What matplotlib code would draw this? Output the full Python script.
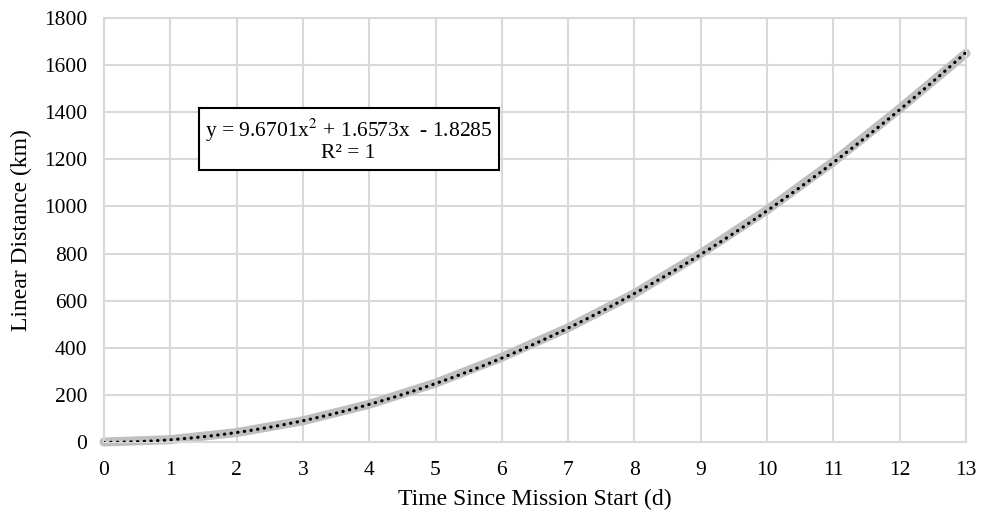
import matplotlib.pyplot as plt
import numpy as np

plt.rcParams['font.family'] = ['Liberation Serif', 'DejaVu Serif']

# data (day, km)
days = [0, 1, 2, 3, 4, 5, 6, 7, 8, 9, 10, 11, 12, 13]
dist = [0, 10, 40, 90, 160, 250, 360, 485, 630, 800, 985, 1190, 1415, 1650]

# trendline coefficients as shown on the chart
a2, a1, a0 = 9.6701, 1.6573, -1.8285

fig = plt.figure(figsize=(9.82, 5.15), dpi=100)
ax = fig.add_axes([104/982, 1-442/515, (966-104)/982, (442-18)/515])

ax.plot(days, dist, color='#BFBFBF', lw=6.5, solid_capstyle='round',
        solid_joinstyle='round', zorder=2, clip_on=False)

xt = np.linspace(0, 13, 400)
ax.plot(xt, a2*xt**2 + a1*xt + a0, color='black', lw=2.3,
        linestyle=(0, (0.1, 2.0)), dash_capstyle='round', zorder=3)

ax.set_xlim(0, 13)
ax.set_ylim(0, 1800)
ax.set_xticks(range(0, 14))
ax.set_yticks(range(0, 1801, 200))
ax.grid(color='#D9D9D9', lw=1.5)
ax.set_axisbelow(True)
for s in ax.spines.values():
    s.set_color('#D9D9D9')
    s.set_linewidth(1.5)
ax.tick_params(length=0, labelsize=15.5, pad=14)
ax.tick_params(axis='y', pad=12)

ax.set_xlabel('Time Since Mission Start (d)', fontsize=17, labelpad=6)
ax.set_ylabel('Linear Distance (km)', fontsize=17)
ax.yaxis.set_label_coords(-72/862, 0.5)

ax.text(3.69, 1282, 'y = 9.6701x$^2$ + 1.6573x  - 1.8285\nR² = 1', fontsize=15.5,
        ha='center', va='center', linespacing=1.05,
        math_fontfamily='stix',
        bbox=dict(boxstyle='square,pad=0.3', fc='white', ec='black', lw=1.5))

fig.savefig('out.png', dpi=100)
